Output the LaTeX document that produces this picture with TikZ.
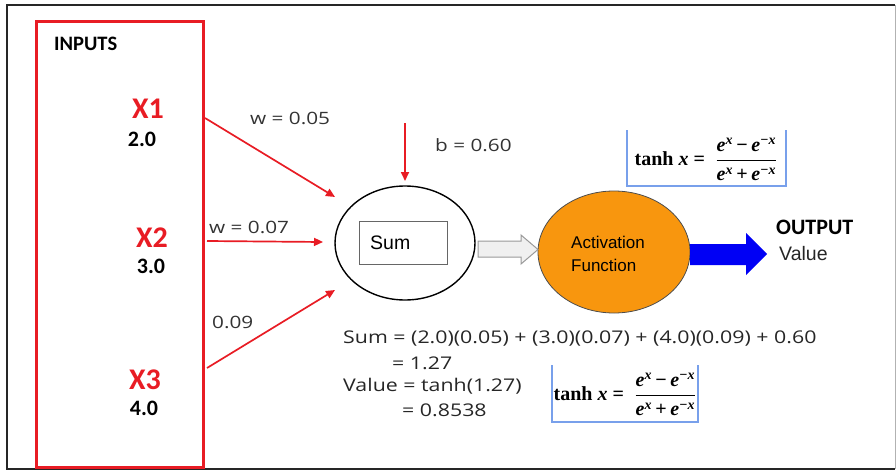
\documentclass[tikz,border=0pt]{standalone}
\usepackage{fontspec}
\usepackage{amsmath}
\usepackage{graphicx}
\setmainfont{Liberation Sans}
\newfontfamily\calfont{Carlito}
\newfontfamily\opfont{Open Sans}
\newfontfamily\tmfont{Liberation Serif}
\usetikzlibrary{arrows.meta,shapes.geometric}
\definecolor{myred}{RGB}{232,28,36}
\definecolor{myorange}{RGB}{248,150,14}
\definecolor{myblue}{RGB}{0,0,245}
\definecolor{boxblue}{RGB}{120,160,235}
\newcommand{\stretchtext}[1]{\scalebox{1.22}[1]{#1}}
\newcommand{\bi}[1]{\textbf{\textit{#1}}}
\newcommand{\mminus}{\char"2212}
\newcommand{\tanhformula}{{\tmfont\fontsize{20}{24}\selectfont\bfseries tanh \bi{x} =\;
$\dfrac{\text{\bi{e}}^{\text{\bi{x}}}\,\text{\bfseries\mminus}\,\text{\bi{e}}^{\text{\bi{\mminus x}}}}{\text{\bi{e}}^{\text{\bi{x}}}\,\text{\bfseries +}\,\text{\bi{e}}^{\text{\bi{\mminus x}}}}$}}
\tikzset{
  wire/.style={myred, line width=1.7pt, -{Triangle[length=9pt,width=8pt]}},
  lbl/.style={inner sep=0pt, font=\opfont\fontsize{17}{20}\selectfont, text=black!80},
  inname/.style={inner sep=0pt, font=\calfont\bfseries\fontsize{30}{32}\selectfont, text=myred},
  inval/.style={inner sep=0pt, font=\calfont\bfseries\fontsize{22}{24}\selectfont},
  fbox/.style={boxblue, line width=1.6pt},
  eqline/.style={inner sep=0pt, anchor=west, font=\opfont\fontsize{17.5}{20}\selectfont, text=black!85}
}
\begin{document}
\begin{tikzpicture}[x=1pt,y=-1pt]
\useasboundingbox (0,0) rectangle (896,471);
% outer frame
\draw[black!30, line width=1pt] (895,5) -- (895,469);
\draw[black!85, line width=2pt] (895,5) -- (7,5) -- (7,469) -- (895,469);
% inputs box
\draw[myred, line width=3pt] (36,21) rectangle (203,467);
\node[anchor=west, inner sep=0pt, font=\calfont\bfseries\fontsize{20.5}{22}\selectfont] (inputs) at (54,44) {INPUTS};
\node[inname] (x1) at (148,109) {X1};
\node[inval] (v1) at (142,139) {2.0};
\node[inname] (x2) at (152,238) {X2};
\node[inval] (v2) at (151,266) {3.0};
\node[inname] (x3) at (145,380) {X3};
\node[inval] (v3) at (144,408) {4.0};
% connection points
\coordinate (o1) at (205,118);
\coordinate (o2) at (207,241);
\coordinate (o3) at (207,368);
\coordinate (t1) at (335,197);
\coordinate (t2) at (323,242);
\coordinate (t3) at (335,290);
\coordinate (bs) at (405,123);
\coordinate (bt) at (405,181);
% sum neuron
\node[ellipse, draw, line width=1.4pt, minimum width=140pt, minimum height=114pt, inner sep=0pt] (sum) at (405,243) {};
\node[draw=black!60, line width=1pt, minimum width=88pt, minimum height=43pt, inner sep=0pt] (sumbox) at (403,242.5) {};
\node[anchor=west, inner sep=0pt, font=\fontsize{19.5}{22}\selectfont] (sumtxt) at (370,243) {Sum};
% wires
\draw[wire] (o1) -- (t1);
\draw[wire] (o2) -- (t2);
\draw[wire] (o3) -- (t3);
\draw[wire] (bs) -- (bt);
\node[lbl, anchor=west] (w1) at (250,118) {\stretchtext{w = 0.05}};
\node[lbl, anchor=west] (w2) at (209,227) {\stretchtext{w = 0.07}};
\node[lbl, anchor=west] (w3) at (212,322) {\stretchtext{0.09}};
\node[lbl, anchor=west] (b) at (435,145) {\stretchtext{b = 0.60}};
% activation
\node[ellipse, draw=black!70, line width=0.8pt, fill=myorange, minimum width=152pt, minimum height=122pt, inner sep=0pt] (act) at (614,252) {};
\node[anchor=west, inner sep=0pt, align=left, font=\fontsize{17}{22.5}\selectfont] (acttxt) at (571,254) {Activation\\Function};
% gray hollow arrow
\draw[gray!80, fill=gray!12, line width=1pt] (478,241) -- (521,241) -- (521,235) -- (538,249.5) -- (521,264) -- (521,257) -- (478,257) -- cycle;
% blue arrow
\fill[myblue] (690,244) -- (746,244) -- (746,233) -- (767,254) -- (746,275) -- (746,265) -- (690,265) -- cycle;
% output
\node[anchor=west, inner sep=0pt, font=\calfont\bfseries\fontsize{22}{24}\selectfont] (out) at (776,227) {OUTPUT};
\node[anchor=west, inner sep=0pt, font=\fontsize{19.5}{22}\selectfont, text=black!85] (val) at (779,254) {Value};
% formula boxes
\draw[fbox] (627,130) -- (627,186) -- (786,186) -- (786,130);
\node[inner sep=0pt] (f1) at (706,159) {\tanhformula};
\draw[fbox] (552,365) -- (552,422) -- (698,422) -- (698,365);
\node[inner sep=0pt] (f2) at (625,394) {\tanhformula};
% equations
\node[eqline] (e1) at (343,339) {\stretchtext{Sum = (2.0)(0.05) + (3.0)(0.07) + (4.0)(0.09) + 0.60}};
\node[eqline] (e2) at (392,363) {\stretchtext{= 1.27}};
\node[eqline] (e3) at (343,386) {\stretchtext{Value = tanh(1.27)}};
\node[eqline] (e4) at (402,410) {\stretchtext{= 0.8538}};
\end{tikzpicture}
\end{document}
